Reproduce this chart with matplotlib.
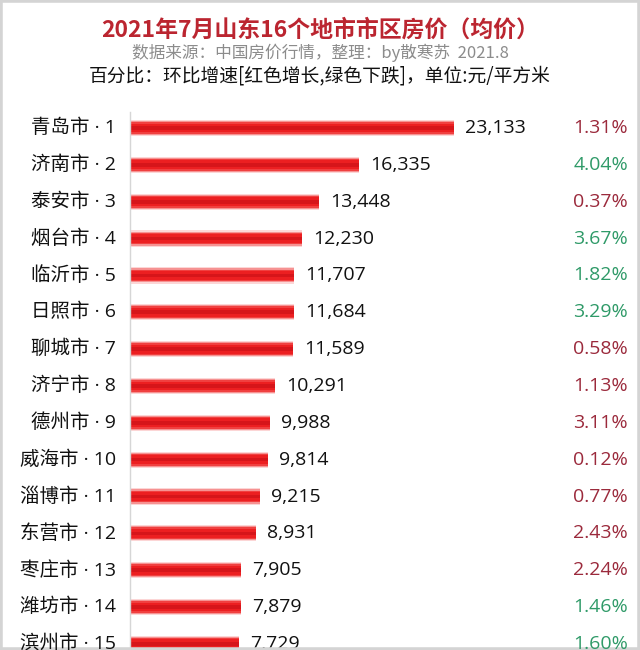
import matplotlib
matplotlib.use('Agg')
import matplotlib.pyplot as plt
from matplotlib.patches import Rectangle

plt.rcParams['font.family'] = ['Noto Sans CJK SC', 'DejaVu Sans']
num_font = ['Open Sans', 'Noto Sans CJK SC']

# data
cities = ['青岛市', '济南市', '泰安市', '烟台市', '临沂市', '日照市', '聊城市', '济宁市',
          '德州市', '威海市', '淄博市', '东营市', '枣庄市', '潍坊市', '滨州市']
prices = [23133, 16335, 13448, 12230, 11707, 11684, 11589, 10291,
          9988, 9814, 9215, 8931, 7905, 7879, 7729]
# month-on-month change, negative = decline (green)
changes = [1.31, -4.04, 0.37, -3.67, -1.82, -3.29, 0.58, 1.13,
           3.11, 0.12, 0.77, 2.43, 2.24, -1.46, -1.60]

W, H = 640, 650
fig = plt.figure(figsize=(6.4, 6.5), dpi=100)

# axes from x=131px to right edge, y from 108px to bottom
ax = fig.add_axes([131 / W, 0, 1 - 131 / W, 1 - 108 / H])
ax.set_xlim(0, 509 / 323 * 23133)
row_h = 36.85
ax.set_ylim((650 - 128) / row_h, -20 / row_h)
ax.axis('off')

ys = list(range(len(cities)))

# tube-like red bars: stacked layers
layers = [(0.44, '#fcd6d6'), (0.38, '#f69292'), (0.32, '#f04040'),
          (0.24, '#ec1f21'), (0.10, '#d6151a')]
for h, c in layers:
    ax.barh(ys, prices, height=h, color=c, linewidth=0)

red_txt = '#9b2a3c'
green_txt = '#2f9a68'
for i in ys:
    ax.text(prices[i] + 11 / 323 * 23133, i, f'{prices[i]:,}', va='center', ha='left',
            fontsize=14, color='#111111', family=num_font)
    col = red_txt if changes[i] >= 0 else green_txt
    fig.text(628 / W, 1 - (128 + row_h * i) / H, f'{abs(changes[i]):.2f}%', ha='right',
             va='center', fontsize=14, color=col, family=num_font)
    fig.text(116 / W, 1 - (128 + row_h * i) / H, f'{cities[i]} · {i + 1}', ha='right',
             va='center', fontsize=14, color='#111111', family=num_font)

# left axis line
fig.add_artist(plt.Line2D([130 / W, 130 / W], [0, 1 - 112 / H], color='#d6d6d6', lw=1))

# titles
fig.text(0.5, 1 - 30 / H, '2021年7月山东16个地市市区房价（均价）', ha='center', va='center',
         fontsize=16.5, fontweight='bold', color='#bb2530')
fig.text(0.5, 1 - 53 / H, '数据来源：中国房价行情，整理：by散寒苏  2021.8', ha='center',
         va='center', fontsize=12, color='#8c8c8c')
fig.text(0.5, 1 - 76 / H, '百分比：环比增速[红色增长,绿色下跌]，单位:元/平方米', ha='center',
         va='center', fontsize=13.5, color='#111111')

# light frame around picture
fig.add_artist(Rectangle((0, 0), 1, 1, transform=fig.transFigure, fill=False,
                         edgecolor='#d4d4d4', linewidth=4))

fig.savefig('out.png', dpi=100, facecolor='white')
